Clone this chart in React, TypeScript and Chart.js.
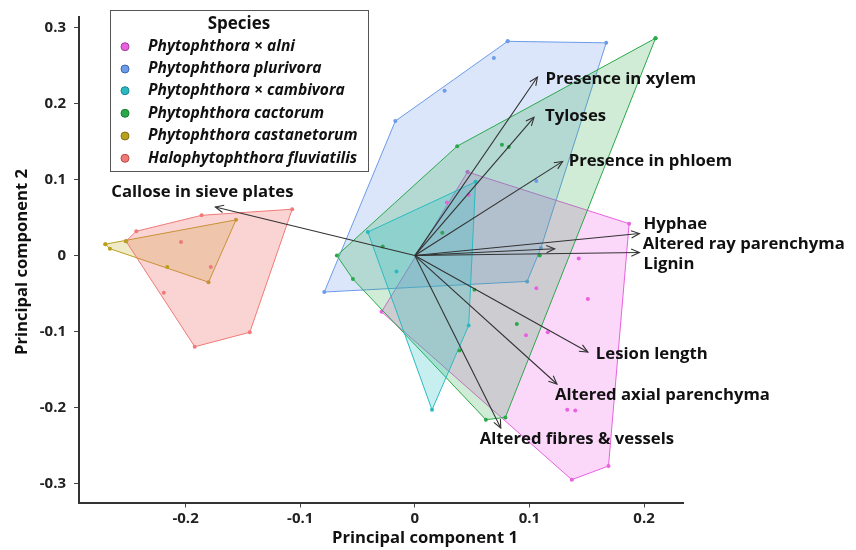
import { useEffect, useRef } from "react";
import { Chart, registerables } from "chart.js";

Chart.register(...registerables);

// ---------- data ----------
const xTicks = [-0.2, -0.1, 0, 0.1, 0.2];
const xTickLabels = ["-0.2", "-0.1", "0", "0.1", "0.2"];
const yTicks = [-0.3, -0.2, -0.1, 0, 0.1, 0.2, 0.3];
const yTickLabels = ["-0.3", "-0.2", "-0.1", "0", "0.1", "0.2", "0.3"];

const speciesNames = [
  "Phytophthora × alni",
  "Phytophthora plurivora",
  "Phytophthora × cambivora",
  "Phytophthora cactorum",
  "Phytophthora castanetorum",
  "Halophytophthora fluviatilis",
];

const alniHull = [[0.046, 0.110], [0.187, 0.042], [0.169, -0.277], [0.137, -0.295], [-0.029, -0.074]];
const alniPts = [[0.047, 0.080], [0.028, 0.070], [0.143, -0.004], [0.106, -0.043], [0.151, -0.057], [0.116, -0.101], [0.097, -0.105], [0.133, -0.203], [0.140, -0.204]];
const plurivoraHull = [[0.081, 0.282], [0.167, 0.280], [0.110, 0.010], [0.098, -0.034], [-0.079, -0.048], [-0.017, 0.177]];
const plurivoraPts = [[0.069, 0.260], [0.026, 0.217], [0.106, 0.098]];
const cambivoraHull = [[0.053, 0.097], [0.047, -0.092], [0.015, -0.203], [-0.041, 0.031]];
const cambivoraPts = [[-0.016, -0.021]];
const cactorumHull = [[0.210, 0.286], [0.079, -0.213], [0.062, -0.216], [-0.054, -0.031], [-0.068, 0.000], [0.037, 0.144]];
const cactorumPts = [[0.076, 0.146], [0.082, 0.143], [0.024, 0.030], [-0.028, 0.012], [0.109, 0.000], [0.052, -0.045], [0.089, -0.090], [0.039, -0.125]];
const castanetorumHull = [[-0.270, 0.015], [-0.156, 0.047], [-0.180, -0.035], [-0.266, 0.009]];
const castanetorumPts = [[-0.252, 0.019], [-0.216, -0.015]];
const fluviatilisHull = [[-0.252, 0.019], [-0.243, 0.032], [-0.186, 0.053], [-0.107, 0.061], [-0.144, -0.101], [-0.192, -0.120]];
const fluviatilisPts = [[-0.204, 0.018], [-0.178, -0.015], [-0.219, -0.049]];

const hulls = [alniHull, plurivoraHull, cambivoraHull, cactorumHull, castanetorumHull, fluviatilisHull];
const pts = [alniPts, plurivoraPts, cambivoraPts, cactorumPts, castanetorumPts, fluviatilisPts];

const loadingNames = [
  "Presence in xylem",
  "Tyloses",
  "Presence in phloem",
  "Callose in sieve plates",
  "Hyphae",
  "Altered ray parenchyma",
  "Lignin",
  "Lesion length",
  "Altered axial parenchyma",
  "Altered fibres & vessels",
];
const loadingX = [0.107, 0.104, 0.129, -0.174, 0.196, 0.122, 0.196, 0.151, 0.124, 0.075];
const loadingY = [0.235, 0.182, 0.124, 0.064, 0.029, 0.009, 0.004, -0.127, -0.169, -0.227];

// ---------- styles ----------
const strokeColors = ["#e862df", "#6b9be9", "#2bb9c1", "#2aa84a", "#b9a11f", "#f07a78"];
const fillColors = [
  "rgba(240,110,235,0.28)",
  "rgba(90,140,230,0.22)",
  "rgba(30,190,190,0.25)",
  "rgba(40,170,70,0.22)",
  "rgba(190,170,30,0.25)",
  "rgba(240,110,110,0.30)",
];
// draw order of hulls (higher = drawn earlier / lower)
const hullOrder = [20, 19, 16, 17, 15, 14];
const legendMarkerStroke = ["#a03c9c", "#3d68b0", "#178890", "#1a7a34", "#857310", "#b84a48"];
// label offsets in pixels relative to arrow tip: [dx, dy, align]
const labelOffsets: [number, number, CanvasTextAlign][] = [
  [8, 2, "left"],
  [11, -1, "left"],
  [6, 0, "left"],
  [-13, -15, "center"],
  [4, -9, "left"],
  [88, -4, "left"],
  [4, 12, "left"],
  [8, 2, "left"],
  [-2, 11, "left"],
  [-21, 11, "left"],
];

const FONT = "'Open Sans', 'Noto Sans', sans-serif";

const toXY = (arr: number[][]) => arr.map(([x, y]) => ({ x, y }));

const overlayPlugin = {
  id: "overlay",
  afterDatasetsDraw(chart: any) {
    const ctx = chart.ctx;
    const xs = chart.scales.x;
    const ys = chart.scales.y;
    ctx.save();
    ctx.strokeStyle = "#333";
    ctx.lineWidth = 1.1;
    for (let i = 0; i < loadingX.length; i++) {
      const x0 = xs.getPixelForValue(0);
      const y0 = ys.getPixelForValue(0);
      const x1 = xs.getPixelForValue(loadingX[i]);
      const y1 = ys.getPixelForValue(loadingY[i]);
      const ang = Math.atan2(y1 - y0, x1 - x0);
      const L = 9;
      const a = 0.42;
      ctx.beginPath();
      ctx.moveTo(x1 - L * Math.cos(ang - a), y1 - L * Math.sin(ang - a));
      ctx.lineTo(x1, y1);
      ctx.lineTo(x1 - L * Math.cos(ang + a), y1 - L * Math.sin(ang + a));
      ctx.stroke();
    }
    ctx.restore();
  },
  afterDraw(chart: any) {
    const ctx = chart.ctx;
    const xs = chart.scales.x;
    const ys = chart.scales.y;
    ctx.save();
    // loading labels
    ctx.fillStyle = "#111";
    ctx.font = `bold 16.7px ${FONT}`;
    ctx.textBaseline = "middle";
    for (let i = 0; i < loadingNames.length; i++) {
      const [dx, dy, al] = labelOffsets[i];
      ctx.textAlign = al;
      ctx.fillText(loadingNames[i], xs.getPixelForValue(loadingX[i]) + dx, ys.getPixelForValue(loadingY[i]) + dy);
    }
    // legend
    ctx.fillStyle = "#fff";
    ctx.fillRect(110.5, 10.5, 258, 161);
    ctx.strokeStyle = "#555";
    ctx.lineWidth = 1;
    ctx.strokeRect(110.5, 10.5, 258, 161);
    ctx.fillStyle = "#111";
    ctx.textAlign = "center";
    ctx.font = `bold 17px ${FONT}`;
    ctx.fillText("Species", 239, 24);
    ctx.textAlign = "left";
    ctx.font = `italic bold 15.6px ${FONT}`;
    const rowY = [46.7, 69, 90.7, 113.3, 136, 158.3];
    for (let i = 0; i < speciesNames.length; i++) {
      ctx.beginPath();
      ctx.arc(125, rowY[i], 4, 0, Math.PI * 2);
      ctx.fillStyle = strokeColors[i];
      ctx.fill();
      ctx.strokeStyle = legendMarkerStroke[i];
      ctx.lineWidth = 1;
      ctx.stroke();
      ctx.fillStyle = "#111";
      ctx.fillText(speciesNames[i], 148, rowY[i]);
    }
    // axis titles
    ctx.font = `bold 16.6px ${FONT}`;
    ctx.textAlign = "center";
    ctx.fillText("Principal component 1", 425, 538);
    ctx.translate(22, 262);
    ctx.rotate(-Math.PI / 2);
    ctx.fillText("Principal component 2", 0, 0);
    ctx.restore();
  },
};

export default function App() {
  const ref = useRef<HTMLCanvasElement | null>(null);
  useEffect(() => {
    document.body.style.margin = "0";
    if (!ref.current) return;
    const datasets: any[] = [];
    for (let i = 0; i < hulls.length; i++) {
      const h = toXY(hulls[i]);
      datasets.push({
        label: speciesNames[i] + " hull",
        data: [...h, h[0]],
        showLine: true,
        fill: "shape",
        backgroundColor: fillColors[i],
        borderColor: strokeColors[i],
        borderWidth: 1,
        pointRadius: 2,
        pointBackgroundColor: strokeColors[i],
        pointBorderWidth: 0,
        tension: 0,
        order: hullOrder[i],
      });
      datasets.push({
        label: speciesNames[i],
        data: toXY(pts[i]),
        showLine: false,
        pointRadius: 2,
        pointBackgroundColor: strokeColors[i],
        pointBorderWidth: 0,
        order: 2,
      });
    }
    for (let i = 0; i < loadingNames.length; i++) {
      datasets.push({
        label: loadingNames[i],
        data: [{ x: 0, y: 0 }, { x: loadingX[i], y: loadingY[i] }],
        showLine: true,
        fill: false,
        borderColor: "#333",
        borderWidth: 1.1,
        pointRadius: 0,
        order: 1,
      });
    }
    const tickFont = { family: FONT, size: 15, weight: "bold" as const };
    const chart = new Chart(ref.current, {
      type: "line",
      data: { datasets },
      options: {
        animation: false,
        responsive: false,
        maintainAspectRatio: false,
        layout: { padding: { top: 12.7, right: 173, bottom: 0, left: 0 } },
        plugins: { legend: { display: false }, tooltip: { enabled: false } },
        scales: {
          x: {
            type: "linear",
            min: -0.293,
            max: 0.234,
            afterBuildTicks: (s: any) => {
              s.ticks = xTicks.map((v) => ({ value: v }));
            },
            afterFit: (s: any) => {
              s.height = 47.5;
            },
            ticks: {
              callback: (v: any) => xTickLabels[xTicks.findIndex((t) => Math.abs(t - v) < 1e-9)] ?? "",
              font: tickFont,
              color: "#222",
              padding: 2,
              maxRotation: 0,
              autoSkip: false,
            },
            grid: { drawOnChartArea: false, drawTicks: true, tickLength: 5, color: "#444", tickWidth: 1 },
            border: { display: true, color: "#333", width: 2 },
          },
          y: {
            type: "linear",
            min: -0.325,
            max: 0.314,
            afterBuildTicks: (s: any) => {
              s.ticks = yTicks.map((v) => ({ value: v }));
            },
            afterFit: (s: any) => {
              s.width = 79;
            },
            ticks: {
              callback: (v: any) => yTickLabels[yTicks.findIndex((t) => Math.abs(t - v) < 1e-9)] ?? "",
              font: tickFont,
              color: "#222",
              padding: 8,
              autoSkip: false,
            },
            grid: { drawOnChartArea: false, drawTicks: true, tickLength: 5, color: "#444", tickWidth: 1 },
            border: { display: true, color: "#333", width: 2 },
          },
        },
      },
      plugins: [overlayPlugin],
    });
    return () => chart.destroy();
  }, []);
  return (
    <div style={{ width: 856, height: 550 }}>
      <canvas ref={ref} width={856} height={550} />
    </div>
  );
}
